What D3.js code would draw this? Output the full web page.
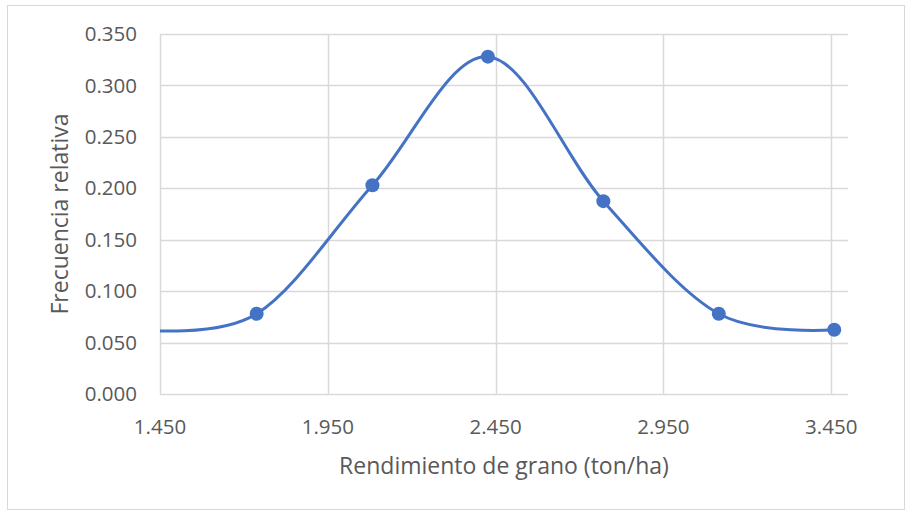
<!DOCTYPE html>
<html>
<head>
<meta charset="utf-8">
<script src="https://cdn.jsdelivr.net/npm/d3@7"></script>
<style>
    body { margin: 0; background: #fff; }
    text { font-family: "Open Sans", sans-serif; fill: #595959; }
</style>
</head>
<body>
<div id="chart"></div>
<script>
// Rendimiento (class marks) and relative frequency
const rendimiento = [1.394, 1.738, 2.083, 2.427, 2.771, 3.115, 3.459];
const frecuencia = [0.0625, 0.078, 0.203, 0.328, 0.1875, 0.078, 0.0625];
const xTicks = [1.45, 1.95, 2.45, 2.95, 3.45];
const yTicks = [0, 0.05, 0.1, 0.15, 0.2, 0.25, 0.3, 0.35];
const xTitle = "Rendimiento de grano (ton/ha)";
const yTitle = "Frecuencia relativa";

const width = 910;
const height = 512;
const plot = { left: 160, right: 848, top: 34, bottom: 394 };

const svg = d3.select("#chart")
    .append("svg")
    .attr("width", width)
    .attr("height", height);

// chart border
svg.append("rect")
    .attr("x", 7.5)
    .attr("y", 5.5)
    .attr("width", 897)
    .attr("height", 504)
    .attr("fill", "#fff")
    .attr("stroke", "#d9d9d9");

const x = d3.scaleLinear()
    .domain([1.45, 3.5])
    .range([plot.left, plot.right]);

const y = d3.scaleLinear()
    .domain([0, 0.35])
    .range([plot.bottom, plot.top]);

// Draw the grid
svg.append("g")
    .selectAll("line")
    .data(yTicks)
    .join("line")
    .attr("x1", plot.left)
    .attr("x2", plot.right)
    .attr("y1", d => Math.round(y(d)) + 0.5)
    .attr("y2", d => Math.round(y(d)) + 0.5)
    .attr("stroke", "#d9d9d9")
    .attr("stroke-width", 1.5);

svg.append("g")
    .selectAll("line")
    .data(xTicks)
    .join("line")
    .attr("x1", d => Math.round(x(d)) + 0.5)
    .attr("x2", d => Math.round(x(d)) + 0.5)
    .attr("y1", plot.top)
    .attr("y2", plot.bottom)
    .attr("stroke", "#d9d9d9")
    .attr("stroke-width", 1.5);

// tick labels
svg.append("g")
    .selectAll("text")
    .data(yTicks)
    .join("text")
    .attr("x", plot.left - 23)
    .attr("y", d => y(d))
    .attr("dy", "0.35em")
    .attr("text-anchor", "end")
    .attr("font-size", "20.5px")
    .text(d => d3.format(".3f")(d));

svg.append("g")
    .selectAll("text")
    .data(xTicks)
    .join("text")
    .attr("x", d => x(d))
    .attr("y", 427)
    .attr("dy", "0.35em")
    .attr("text-anchor", "middle")
    .attr("font-size", "20.5px")
    .text(d => d3.format(".3f")(d));

// axis titles
svg.append("text")
    .attr("x", (plot.left + plot.right) / 2)
    .attr("y", 466)
    .attr("dy", "0.35em")
    .attr("text-anchor", "middle")
    .attr("font-size", "23px")
    .text(xTitle);

svg.append("text")
    .attr("transform", `translate(60,${(plot.top + plot.bottom) / 2}) rotate(-90)`)
    .attr("dy", "0.35em")
    .attr("text-anchor", "middle")
    .attr("font-size", "23px")
    .text(yTitle);

// clip to plot area
svg.append("clipPath")
    .attr("id", "clip")
    .append("rect")
    .attr("x", plot.left)
    .attr("y", plot.top - 10)
    .attr("width", plot.right - plot.left)
    .attr("height", plot.bottom - plot.top + 10);

const data = rendimiento.map((r, i) => ({ x: r, y: frecuencia[i] }));

const line = d3.line()
    .x(d => x(d.x))
    .y(d => y(d.y))
    .curve(d3.curveCardinal.tension(0));

const g = svg.append("g").attr("clip-path", "url(#clip)");

g.append("path")
    .datum(data)
    .attr("d", line)
    .attr("fill", "none")
    .attr("stroke", "#4472c4")
    .attr("stroke-width", 3);

g.selectAll(".dot")
    .data(data)
    .join("circle")
    .attr("cx", d => x(d.x))
    .attr("cy", d => y(d.y))
    .attr("r", 7)
    .attr("fill", "#4472c4");
</script>
</body>
</html>
